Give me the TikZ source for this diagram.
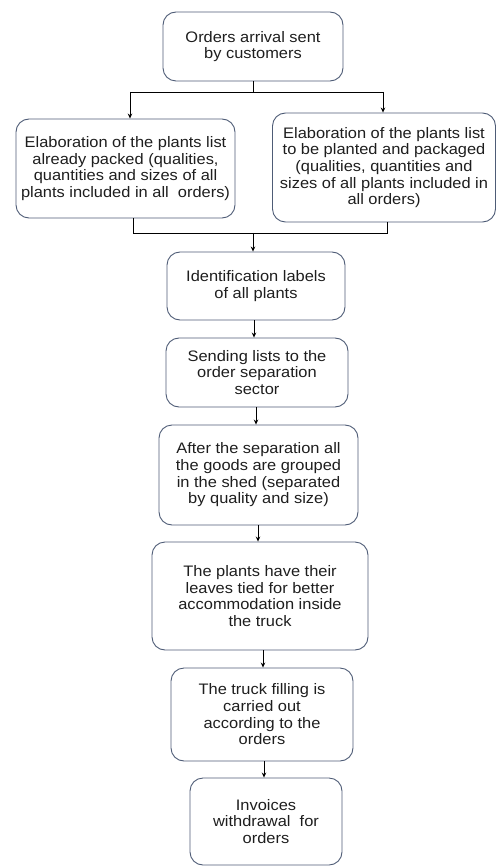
\documentclass[tikz,border=0pt]{standalone}
\usepackage{fontspec}
\setmainfont{Liberation Sans}[FakeStretch=1.08]
\usetikzlibrary{arrows.meta}
\definecolor{boxc}{RGB}{78,92,118}
\definecolor{txtc}{RGB}{30,30,30}
\tikzset{
  box/.style={draw=boxc, line width=0.9pt, rounded corners=13pt, align=center,
    inner sep=0pt, text=txtc, font=\fontsize{15.2}{16.7}\selectfont},
  conn/.style={draw=black, line width=0.8pt},
  arr/.style={conn, -{Stealth[length=5pt,width=4.5pt]}}
}
\begin{document}
\begin{tikzpicture}[x=1pt,y=-1pt]
\useasboundingbox (0,0) rectangle (497,866);
\node[box, minimum width=180pt, minimum height=69pt] (b1) at (253,46.5)
  {Orders arrival sent\\by customers};
\node[box, minimum width=219pt, minimum height=99pt] (b2) at (125.5,168.5)
  {Elaboration of the plants list\\already packed (qualities,\\quantities and sizes of all\\plants included in all\ \ orders)};
\node[box, minimum width=223pt, minimum height=109pt] (b3) at (384,167.5)
  {Elaboration of the plants list\\to be planted and packaged\\(qualities, quantities and\\sizes of all plants included in\\all orders)};
\node[box, minimum width=178pt, minimum height=68pt] (b4) at (256,286)
  {Identification labels\\of all plants};
\node[box, minimum width=182pt, minimum height=69pt] (b5) at (257,372.5)
  {Sending lists to the\\order separation\\sector};
\node[box, minimum width=199pt, minimum height=100pt] (b6) at (258.5,475)
  {After the separation all\\the goods are grouped\\in the shed (separated\\by quality and size)};
\node[box, minimum width=216pt, minimum height=108pt] (b7) at (260,596)
  {The plants have their\\leaves tied for better\\accommodation inside\\the truck};
\node[box, minimum width=182pt, minimum height=93pt] (b8) at (262,714.5)
  {The truck filling is\\carried out\\according to the\\orders};
\node[box, minimum width=152pt, minimum height=87pt] (b9) at (266,821.5)
  {Invoices\\withdrawal\ \ for\\orders};
% top split
\coordinate (j1) at (253,92);
\coordinate (jl) at (130,92);
\coordinate (jr) at (383,92);
\draw[conn] (b1.south) -- (j1);
\draw[conn] (jl) -- (jr);
\draw[arr] (jl) -- (jl |- b2.north);
\draw[arr] (jr) -- (jr |- b3.north);
% merge
\coordinate (ml) at (133,233);
\coordinate (mr) at (387,233);
\coordinate (mm) at (253,233);
\draw[conn] (ml |- b2.south) -- (ml) -- (mr) -- (mr |- b3.south);
\draw[arr] (mm) -- (mm |- b4.north);
% chain
\draw[arr] (b4.south -| 254,0) -- (254,0 |- b5.north);
\draw[arr] (b5.south -| 256,0) -- (256,0 |- b6.north);
\draw[arr] (b6.south -| 258,0) -- (258,0 |- b7.north);
\draw[arr] (b7.south -| 263,0) -- (263,0 |- b8.north);
\draw[arr] (b8.south -| 264,0) -- (264,0 |- b9.north);
\end{tikzpicture}
\end{document}
